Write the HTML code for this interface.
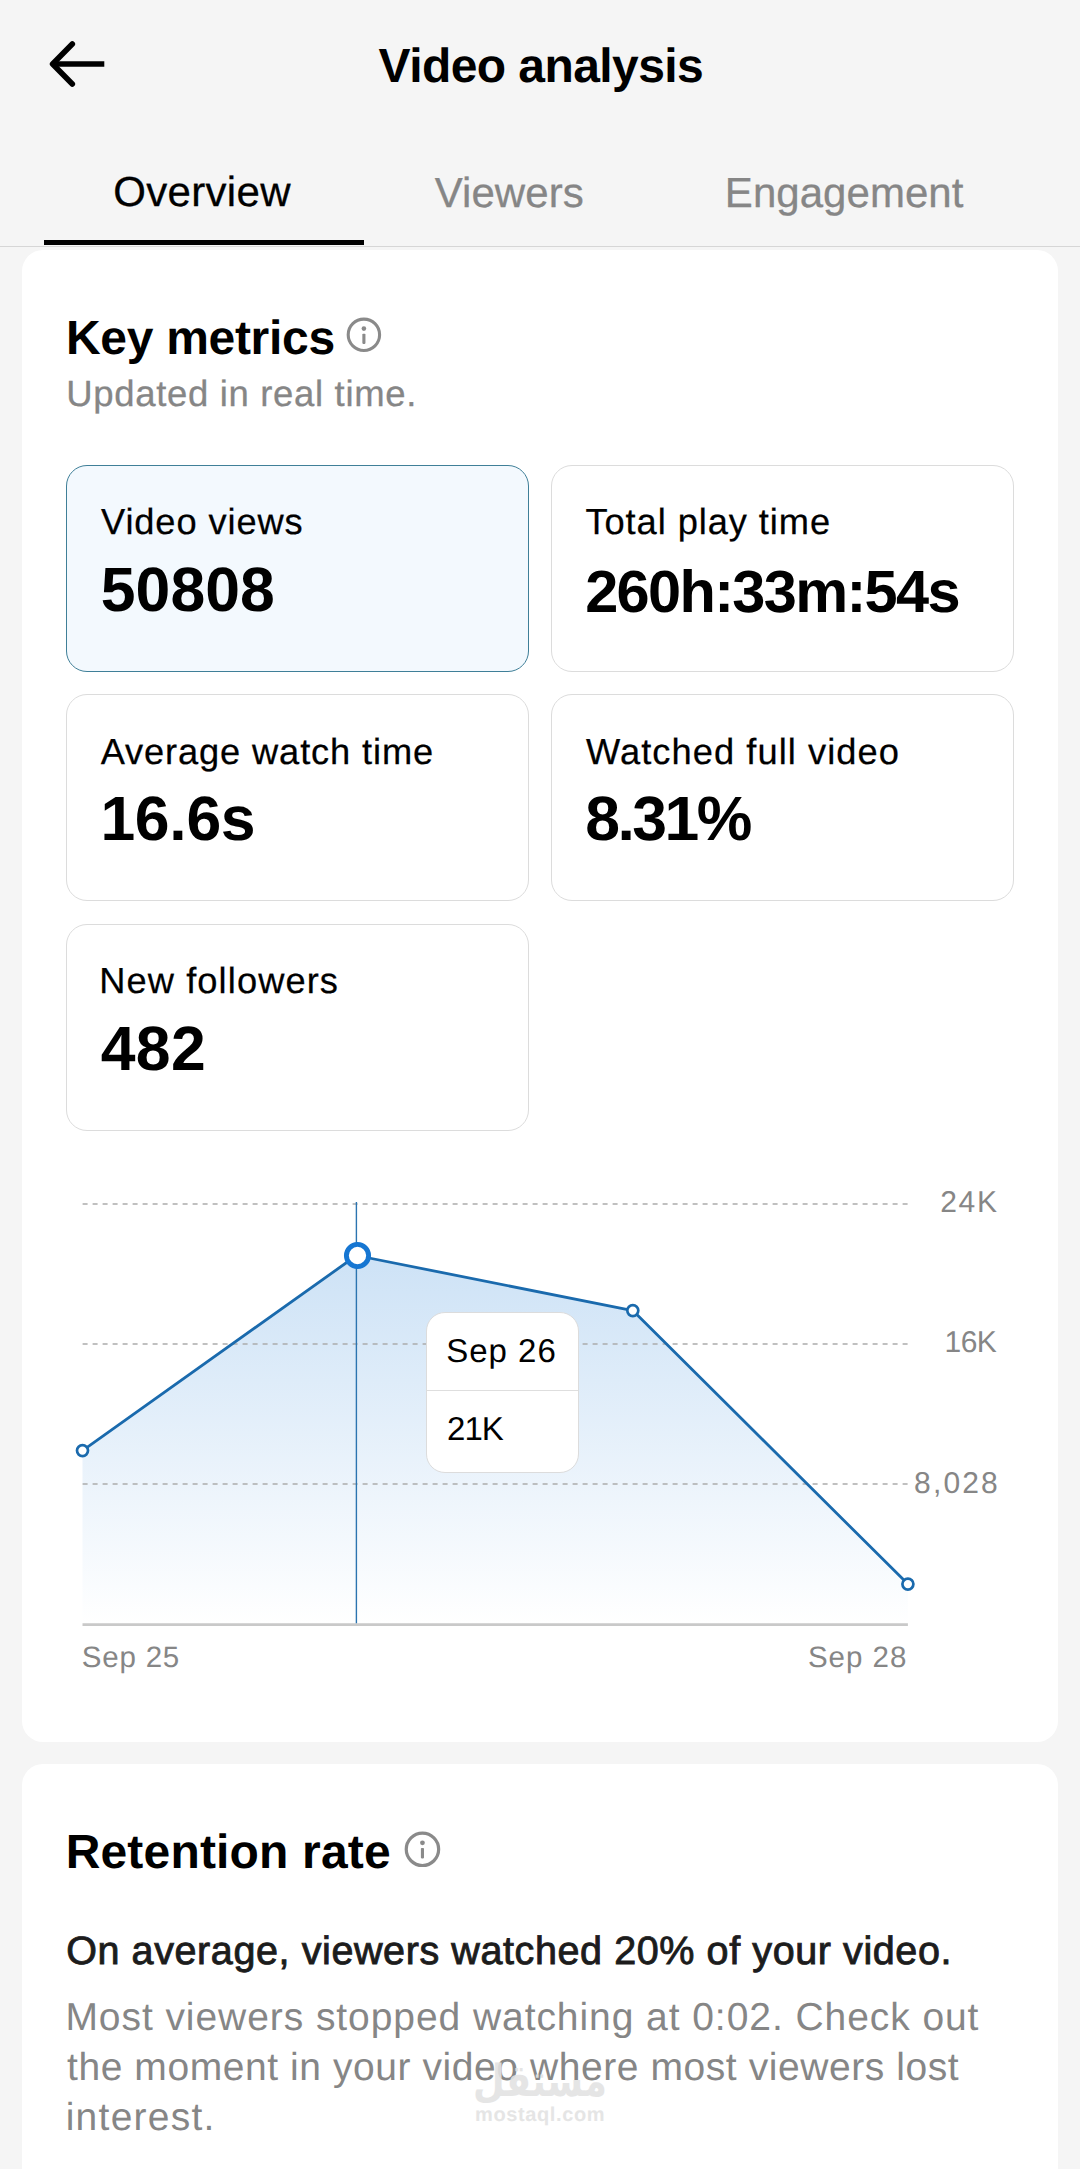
<!DOCTYPE html>
<html lang="en">
<head>
<meta charset="utf-8">
<meta name="viewport" content="width=1080">
<title>Video analysis</title>
<style>
*{box-sizing:border-box;margin:0;padding:0}
html,body{width:1080px;height:2169px;overflow:hidden;background:#f5f5f5}
body{position:relative;font-family:"Liberation Sans",sans-serif;color:#000;text-rendering:geometricPrecision}
.t{position:absolute;white-space:pre;display:block}
.abs{position:absolute}
.tabline{left:0;top:245.500px;width:1080px;height:1.200px;background:#d6d6d6}
.tabsel{left:44px;top:240px;width:320px;height:5px;background:#000}
.card{position:absolute;left:22px;width:1036px;background:#fff;border-radius:21px}
#card1{top:250px;height:1492px}
#card2{top:1764px;height:460px}
.box{position:absolute;width:463px;height:207px;border:1px solid #dcdcdc;border-radius:21px;background:#fff}
.box.sel{border-color:#3f7f98;background:#f3f9fe}
.tip{position:absolute;left:426.300px;top:1312.300px;width:152.300px;height:161px;border:1.200px solid #dcdcdc;border-radius:19px;background:#fff}
.tip i{position:absolute;left:0;right:0;top:76.300px;height:1.200px;background:#dedede}
svg{position:absolute;overflow:visible}
.wm{position:absolute;color:#e3e3e3;opacity:.9}
</style>
</head>
<body>
<header>
<svg style="left:40px;top:34px" width="72" height="60" viewBox="40 34 72 60"><path d="M104.300 64H54" fill="none" stroke="#000" stroke-width="5.600"/><path d="M72.300 44L52.600 64L72.300 84" fill="none" stroke="#000" stroke-width="5.600" stroke-linecap="round" stroke-linejoin="round"/></svg>
<h1 class="t" style="left:378.62px;top:42.73px;font-size:48px;line-height:48px;font-weight:700;color:#000;letter-spacing:-0.575px">Video analysis</h1>
<nav>
<span class="t" style="left:113.22px;top:171.15px;font-size:42px;line-height:42px;font-weight:400;color:#000;letter-spacing:0.317px;-webkit-text-stroke:0.3px #000">Overview</span>
<span class="t" style="left:434.81px;top:171.99px;font-size:42px;line-height:42px;font-weight:400;color:#868686;letter-spacing:0.039px;-webkit-text-stroke:0.3px #868686">Viewers</span>
<span class="t" style="left:724.85px;top:171.99px;font-size:42px;line-height:42px;font-weight:400;color:#868686;letter-spacing:0.040px;-webkit-text-stroke:0.3px #868686">Engagement</span>
<div class="abs tabline"></div>
<div class="abs tabsel"></div>
</nav>
</header>
<main>
<section id="key-metrics">
<div class="card" id="card1"></div>
<h2 class="t" style="left:65.99px;top:315.33px;font-size:48px;line-height:48px;font-weight:700;color:#000;letter-spacing:-0.303px">Key metrics</h2>
<svg style="left:344px;top:315px" width="40" height="40" viewBox="344 315 40 40"><circle cx="363.900" cy="334.800" r="15.700" fill="none" stroke="#8a8a8a" stroke-width="3.100"/><circle cx="363.900" cy="328.600" r="2.300" fill="#8a8a8a"/><rect x="362.350" y="333.700" width="3.100" height="10.200" rx="0.800" fill="#8a8a8a"/></svg>
<p class="t" style="left:66.24px;top:375.75px;font-size:36.5px;line-height:36.5px;font-weight:400;color:#868686;letter-spacing:0.666px;-webkit-text-stroke:0.3px #868686">Updated in real time.</p>
<div class="metrics">
<div class="metric"><div class="box sel" style="left:66px;top:465px"></div><span class="t" style="left:100.97px;top:504.15px;font-size:36.25px;line-height:36.25px;font-weight:400;color:#000;letter-spacing:0.889px;-webkit-text-stroke:0.25px #000">Video views</span><span class="t" style="left:100.73px;top:559.11px;font-size:62.5px;line-height:62.5px;font-weight:700;color:#000;letter-spacing:0.074px">50808</span></div>
<div class="metric"><div class="box" style="left:551px;top:465px"></div><span class="t" style="left:585.44px;top:504.15px;font-size:36.25px;line-height:36.25px;font-weight:400;color:#000;letter-spacing:0.926px;-webkit-text-stroke:0.25px #000">Total play time</span><span class="t" style="left:585.17px;top:562.11px;font-size:59.5px;line-height:59.5px;font-weight:700;color:#000;letter-spacing:-1.659px">260h:33m:54s</span></div>
<div class="metric"><div class="box" style="left:66px;top:694px"></div><span class="t" style="left:100.64px;top:734.15px;font-size:36.25px;line-height:36.25px;font-weight:400;color:#000;letter-spacing:0.876px;-webkit-text-stroke:0.25px #000">Average watch time</span><span class="t" style="left:100.38px;top:787.69px;font-size:62.5px;line-height:62.5px;font-weight:700;color:#000;letter-spacing:-0.290px">16.6s</span></div>
<div class="metric"><div class="box" style="left:551px;top:694px"></div><span class="t" style="left:586.08px;top:734.15px;font-size:36.25px;line-height:36.25px;font-weight:400;color:#000;letter-spacing:1.059px;-webkit-text-stroke:0.25px #000">Watched full video</span><span class="t" style="left:585.24px;top:788.17px;font-size:62.5px;line-height:62.5px;font-weight:700;color:#000;letter-spacing:-2.537px">8.31%</span></div>
<div class="metric"><div class="box" style="left:66px;top:924px"></div><span class="t" style="left:99.17px;top:962.55px;font-size:36.25px;line-height:36.25px;font-weight:400;color:#000;letter-spacing:1.101px;-webkit-text-stroke:0.25px #000">New followers</span><span class="t" style="left:100.72px;top:1017.69px;font-size:62.5px;line-height:62.5px;font-weight:700;color:#000;letter-spacing:0.353px">482</span></div>
</div>
<figure class="chart">
<svg id="chart" style="left:0;top:1180px" width="1080" height="520" viewBox="0 1180 1080 520">
<defs><linearGradient id="g" x1="0" y1="1255" x2="0" y2="1624" gradientUnits="userSpaceOnUse"><stop offset="0" stop-color="#cde2f6"/><stop offset="1" stop-color="#ffffff"/></linearGradient></defs>
<path d="M82.500 1450.600L356.500 1255.500L632.800 1310.600L907.900 1584.100V1624H82.500Z" fill="url(#g)"/>
<g stroke="#acacac" stroke-width="1.500" stroke-dasharray="5 5" fill="none"><path d="M82.600 1203.900H908"/><path d="M82.600 1343.900H908"/><path d="M82.600 1483.900H908"/></g>
<path d="M82.500 1624.600H907.900" stroke="#c9c9c9" stroke-width="2.700" fill="none"/>
<path d="M356.400 1202V1623.300" stroke="#2b74b0" stroke-width="1.400" fill="none"/>
<path d="M82.500 1450.600L356.500 1255.500L632.800 1310.600L907.900 1584.100" fill="none" stroke="#1a6aad" stroke-width="2.800" stroke-linejoin="round"/>
<g fill="#fff" stroke="#1a6aad" stroke-width="2.700"><circle cx="82.500" cy="1450.600" r="5.500"/><circle cx="632.800" cy="1310.600" r="5.500"/><circle cx="907.900" cy="1584.100" r="5.500"/></g>
<circle cx="357.500" cy="1255.500" r="11.100" fill="#fff" stroke="#1676d2" stroke-width="4.900"/>
</svg>
<span class="t" style="left:940.21px;top:1187.67px;font-size:30px;line-height:30px;font-weight:400;color:#868686;letter-spacing:1.689px">24K</span><span class="t" style="left:944.59px;top:1327.87px;font-size:30px;line-height:30px;font-weight:400;color:#868686;letter-spacing:-0.558px">16K</span><span class="t" style="left:914.09px;top:1468.90px;font-size:30px;line-height:30px;font-weight:400;color:#868686;letter-spacing:2.161px">8,028</span>
<span class="t" style="left:81.84px;top:1642.95px;font-size:29.5px;line-height:29.5px;font-weight:400;color:#868686;letter-spacing:0.790px">Sep 25</span><span class="t" style="left:807.90px;top:1642.94px;font-size:29.5px;line-height:29.5px;font-weight:400;color:#868686;letter-spacing:0.989px">Sep 28</span>
<div class="tip"><i></i></div>
<span class="t" style="left:446.18px;top:1334.48px;font-size:33px;line-height:33px;font-weight:400;color:#000;letter-spacing:1.016px">Sep 26</span><span class="t" style="left:446.97px;top:1412.46px;font-size:33px;line-height:33px;font-weight:400;color:#000;letter-spacing:-0.938px">21K</span>
</figure>
</section>
<section id="retention">
<div class="card" id="card2"></div>
<h2 class="t" style="left:65.66px;top:1828.73px;font-size:48px;line-height:48px;font-weight:700;color:#000;letter-spacing:0.175px">Retention rate</h2>
<svg style="left:403px;top:1829px" width="40" height="40" viewBox="403 1829 40 40"><circle cx="422.450" cy="1849.300" r="16.200" fill="none" stroke="#8a8a8a" stroke-width="3.200"/><circle cx="422.450" cy="1842.800" r="2.400" fill="#8a8a8a"/><rect x="420.900" y="1848" width="3.100" height="10.400" rx="0.800" fill="#8a8a8a"/></svg>
<p class="t" style="left:66.17px;top:1932.34px;font-size:39.5px;line-height:39.5px;font-weight:400;color:#1c1c1c;letter-spacing:0.596px;-webkit-text-stroke:0.9px #1c1c1c">On average, viewers watched 20% of your video.</p>
<p class="t" style="left:65.42px;top:1997.57px;font-size:39px;line-height:39px;font-weight:400;color:#868686;letter-spacing:0.931px">Most viewers stopped watching at 0:02. Check out</p>
<p class="t" style="left:67.04px;top:2048.16px;font-size:39px;line-height:39px;font-weight:400;color:#868686;letter-spacing:0.569px">the moment in your video where most viewers lost</p>
<p class="t" style="left:65.69px;top:2097.83px;font-size:39px;line-height:39px;font-weight:400;color:#868686;letter-spacing:1.252px">interest.</p>
</section>
<aside>
<div class="wm" dir="rtl" lang="ar" style="left:472.500px;top:2054px;white-space:nowrap;transform-origin:0 0;transform:scaleX(0.832);font-family:'DejaVu Sans',sans-serif;font-weight:700;font-size:44px;line-height:56px">مستقل</div>
<div class="wm" style="left:475px;top:2104px;font-weight:700;font-size:20px;line-height:22px;letter-spacing:0.620px">mostaql.com</div>
</aside>
</main>
</body>
</html>
